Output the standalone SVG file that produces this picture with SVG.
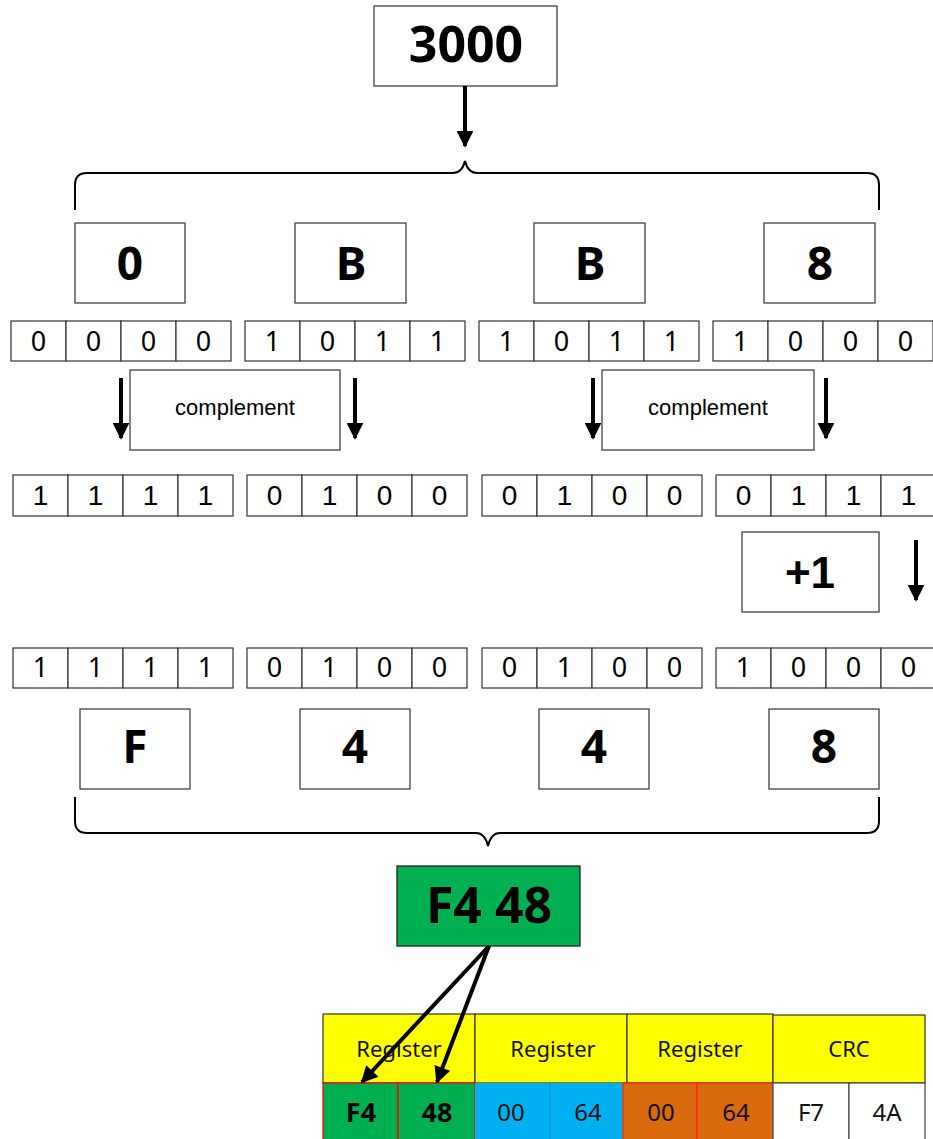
<svg xmlns="http://www.w3.org/2000/svg" width="933" height="1139" viewBox="0 0 933 1139">
<defs>
<style>
.box{fill:#fff;stroke:#404040;stroke-width:1.3}
.cell{fill:#fff;stroke:#333;stroke-width:1.2}
.big{font-family:"Noto Sans","Open Sans",sans-serif;font-weight:bold;font-size:46px;text-anchor:middle;fill:#000}
.bit{font-family:"Noto Sans","Open Sans",sans-serif;font-size:27px;text-anchor:middle;fill:#000}
.bitA{font-family:"Liberation Sans",Arial,sans-serif;font-size:28px;text-anchor:middle;fill:#000}
.lbl{font-family:"Liberation Sans",Arial,sans-serif;font-size:22px;text-anchor:middle;fill:#000}
.tb{font-family:"Noto Sans","Open Sans",sans-serif;font-size:22px;text-anchor:middle;fill:#111}
.tv{font-family:"Noto Sans","Open Sans",sans-serif;font-size:24px;text-anchor:middle;fill:#111}
.tbb{font-family:"Noto Sans","Open Sans",sans-serif;font-size:27px;font-weight:bold;text-anchor:middle;fill:#000}
.conn{stroke:#000;stroke-width:4;fill:none}
.brace{stroke:#000;stroke-width:2;fill:none}
</style>
<marker id="ah" viewBox="0 0 10 10" refX="9" refY="5" markerWidth="4.6" markerHeight="4.2" orient="auto" markerUnits="strokeWidth">
<path d="M0,0 L10,5 L0,10 z" fill="#000"/>
</marker>
</defs>
<rect width="933" height="1139" fill="#fff"/>

<g id="n3000">
<rect class="box" x="374" y="6" width="183" height="80"/>
<text class="big" x="466" y="62" style="font-size:50px">3000</text>
</g>

<g id="nib1">
<g id="n0"><rect class="box" x="75" y="223" width="110" height="80"/><text class="big" x="130" y="280">0</text></g>
<g id="nB1"><rect class="box" x="295" y="223" width="111" height="80"/><text class="big" x="351" y="280">B</text></g>
<g id="nB2"><rect class="box" x="534" y="223" width="111" height="80"/><text class="big" x="590" y="280">B</text></g>
<g id="n8a"><rect class="box" x="764" y="223" width="111" height="80"/><text class="big" x="820" y="280">8</text></g>
</g>

<g id="bits1">
<rect class="cell" x="11" y="321" width="55" height="40"/><rect class="cell" x="66" y="321" width="55" height="40"/><rect class="cell" x="121" y="321" width="55" height="40"/><rect class="cell" x="176" y="321" width="55" height="40"/>
<rect class="cell" x="245" y="321" width="55" height="40"/><rect class="cell" x="300" y="321" width="55" height="40"/><rect class="cell" x="355" y="321" width="55" height="40"/><rect class="cell" x="410" y="321" width="55" height="40"/>
<rect class="cell" x="479" y="321" width="55" height="40"/><rect class="cell" x="534" y="321" width="55" height="40"/><rect class="cell" x="589" y="321" width="55" height="40"/><rect class="cell" x="644" y="321" width="55" height="40"/>
<rect class="cell" x="713" y="321" width="55" height="40"/><rect class="cell" x="768" y="321" width="55" height="40"/><rect class="cell" x="823" y="321" width="55" height="40"/><rect class="cell" x="878" y="321" width="55" height="40"/>
<text class="bit" y="351"><tspan x="38.5">0</tspan><tspan x="93.5">0</tspan><tspan x="148.5">0</tspan><tspan x="203.5">0</tspan><tspan x="272.5">1</tspan><tspan x="327.5">0</tspan><tspan x="382.5">1</tspan><tspan x="437.5">1</tspan><tspan x="506.5">1</tspan><tspan x="561.5">0</tspan><tspan x="616.5">1</tspan><tspan x="671.5">1</tspan><tspan x="740.5">1</tspan><tspan x="795.5">0</tspan><tspan x="850.5">0</tspan><tspan x="905.5">0</tspan></text>
</g>

<g id="comp1">
<rect class="box" x="130" y="370" width="210" height="80"/>
<text class="lbl" x="235" y="415">complement</text>
</g>
<g id="comp2">
<rect class="box" x="602" y="370" width="212" height="80"/>
<text class="lbl" x="708" y="415">complement</text>
</g>

<g id="bits2">
<rect class="cell" x="13" y="475" width="55" height="41"/><rect class="cell" x="68" y="475" width="55" height="41"/><rect class="cell" x="123" y="475" width="55" height="41"/><rect class="cell" x="178" y="475" width="55" height="41"/>
<rect class="cell" x="247" y="475" width="55" height="41"/><rect class="cell" x="302" y="475" width="55" height="41"/><rect class="cell" x="357" y="475" width="55" height="41"/><rect class="cell" x="412" y="475" width="55" height="41"/>
<rect class="cell" x="482" y="475" width="55" height="41"/><rect class="cell" x="537" y="475" width="55" height="41"/><rect class="cell" x="592" y="475" width="55" height="41"/><rect class="cell" x="647" y="475" width="55" height="41"/>
<rect class="cell" x="716" y="475" width="55" height="41"/><rect class="cell" x="771" y="475" width="55" height="41"/><rect class="cell" x="826" y="475" width="55" height="41"/><rect class="cell" x="881" y="475" width="55" height="41"/>
<text class="bitA" y="505"><tspan x="40.5">1</tspan><tspan x="95.5">1</tspan><tspan x="150.5">1</tspan><tspan x="205.5">1</tspan><tspan x="274.5">0</tspan><tspan x="329.5">1</tspan><tspan x="384.5">0</tspan><tspan x="439.5">0</tspan><tspan x="509.5">0</tspan><tspan x="564.5">1</tspan><tspan x="619.5">0</tspan><tspan x="674.5">0</tspan><tspan x="743.5">0</tspan><tspan x="798.5">1</tspan><tspan x="853.5">1</tspan><tspan x="908.5">1</tspan></text>
</g>

<g id="plus1">
<rect class="box" x="742" y="532" width="137" height="80"/>
<text x="810" y="588" font-family="'Liberation Sans',Arial,sans-serif" font-weight="bold" font-size="44" text-anchor="middle">+1</text>
</g>

<g id="bits3">
<rect class="cell" x="13" y="648" width="55" height="40"/><rect class="cell" x="68" y="648" width="55" height="40"/><rect class="cell" x="123" y="648" width="55" height="40"/><rect class="cell" x="178" y="648" width="55" height="40"/>
<rect class="cell" x="247" y="648" width="55" height="40"/><rect class="cell" x="302" y="648" width="55" height="40"/><rect class="cell" x="357" y="648" width="55" height="40"/><rect class="cell" x="412" y="648" width="55" height="40"/>
<rect class="cell" x="482" y="648" width="55" height="40"/><rect class="cell" x="537" y="648" width="55" height="40"/><rect class="cell" x="592" y="648" width="55" height="40"/><rect class="cell" x="647" y="648" width="55" height="40"/>
<rect class="cell" x="716" y="648" width="55" height="40"/><rect class="cell" x="771" y="648" width="55" height="40"/><rect class="cell" x="826" y="648" width="55" height="40"/><rect class="cell" x="881" y="648" width="55" height="40"/>
<text class="bit" y="677"><tspan x="40.5">1</tspan><tspan x="95.5">1</tspan><tspan x="150.5">1</tspan><tspan x="205.5">1</tspan><tspan x="274.5">0</tspan><tspan x="329.5">1</tspan><tspan x="384.5">0</tspan><tspan x="439.5">0</tspan><tspan x="509.5">0</tspan><tspan x="564.5">1</tspan><tspan x="619.5">0</tspan><tspan x="674.5">0</tspan><tspan x="743.5">1</tspan><tspan x="798.5">0</tspan><tspan x="853.5">0</tspan><tspan x="908.5">0</tspan></text>
</g>

<g id="nib2">
<g id="nF"><rect class="box" x="80" y="709" width="110" height="80"/><text class="big" x="135" y="763">F</text></g>
<g id="n4a"><rect class="box" x="300" y="709" width="110" height="80"/><text class="big" x="355" y="763">4</text></g>
<g id="n4b"><rect class="box" x="539" y="709" width="110" height="80"/><text class="big" x="594" y="763">4</text></g>
<g id="n8b"><rect class="box" x="769" y="709" width="110" height="80"/><text class="big" x="824" y="763">8</text></g>
</g>

<g id="nF448">
<rect x="397" y="866" width="183" height="80" fill="#00B050" stroke="#222" stroke-width="1.3"/>
<text class="big" x="489" y="923" style="font-size:50px">F4 48</text>
</g>

<g id="table">
<rect x="323" y="1014" width="152" height="69" fill="#FFFF00" stroke="#333" stroke-width="1.2"/>
<rect x="475" y="1014" width="152" height="69" fill="#FFFF00" stroke="#333" stroke-width="1.2"/>
<rect x="627" y="1014" width="146" height="69" fill="#FFFF00" stroke="#333" stroke-width="1.2"/>
<rect x="773" y="1015" width="152" height="68" fill="#FFFF00" stroke="#333" stroke-width="1.2"/>
<text class="tb" x="399" y="1057">Register</text>
<text class="tb" x="553" y="1057">Register</text>
<text class="tb" x="700" y="1057">Register</text>
<text class="tb" x="849" y="1057">CRC</text>
<rect x="323" y="1083" width="75" height="62" fill="#00B050" stroke="#FF0000" stroke-width="1.3"/>
<rect x="398" y="1083" width="77" height="62" fill="#00B050" stroke="#FF0000" stroke-width="1.3"/>
<rect x="475" y="1083" width="75" height="62" fill="#00B0F0"/>
<rect x="550" y="1083" width="73" height="62" fill="#00B0F0"/>
<line x1="550" y1="1083" x2="550" y2="1139" stroke="#0090D0" stroke-width="1"/>
<rect x="623" y="1083" width="74" height="62" fill="#D96A0D" stroke="#FF2000" stroke-width="1.2"/>
<rect x="697" y="1083" width="76" height="62" fill="#D96A0D" stroke="#FF2000" stroke-width="1.2"/>
<rect x="773" y="1083" width="76" height="62" fill="#fff" stroke="#444" stroke-width="1.2"/>
<rect x="849" y="1083" width="76" height="62" fill="#fff" stroke="#444" stroke-width="1.2"/>
<text class="tbb" x="361" y="1122">F4</text>
<text class="tbb" x="437" y="1122">48</text>
<text class="tv" x="511" y="1121">00</text>
<text class="tv" x="588" y="1121">64</text>
<text class="tv" x="661" y="1121">00</text>
<text class="tv" x="736" y="1121">64</text>
<text class="tv" x="811" y="1121">F7</text>
<text class="tv" x="887" y="1121">4A</text>
</g>

<g id="connectors">
<path class="brace" d="M75,210 V185 Q75,173 87,173 H453 Q462,173 465,161 Q468,173 477,173 H867 Q879,173 879,185 V210"/>
<path class="brace" d="M75,797 V821 Q75,833 87,833 H476 Q485,833 488,846 Q491,833 500,833 H867 Q879,833 879,821 V797"/>
<line class="conn" x1="465" y1="86" x2="465" y2="146" marker-end="url(#ah)"/>
<line class="conn" x1="121" y1="378" x2="121" y2="438" marker-end="url(#ah)"/>
<line class="conn" x1="355" y1="378" x2="355" y2="438" marker-end="url(#ah)"/>
<line class="conn" x1="593" y1="378" x2="593" y2="438" marker-end="url(#ah)"/>
<line class="conn" x1="826" y1="378" x2="826" y2="438" marker-end="url(#ah)"/>
<line class="conn" x1="916" y1="540" x2="916" y2="600" marker-end="url(#ah)"/>
<line class="conn" x1="489" y1="946" x2="362" y2="1082" marker-end="url(#ah)"/>
<line class="conn" x1="489" y1="946" x2="437" y2="1082" marker-end="url(#ah)"/>
</g>
</svg>
